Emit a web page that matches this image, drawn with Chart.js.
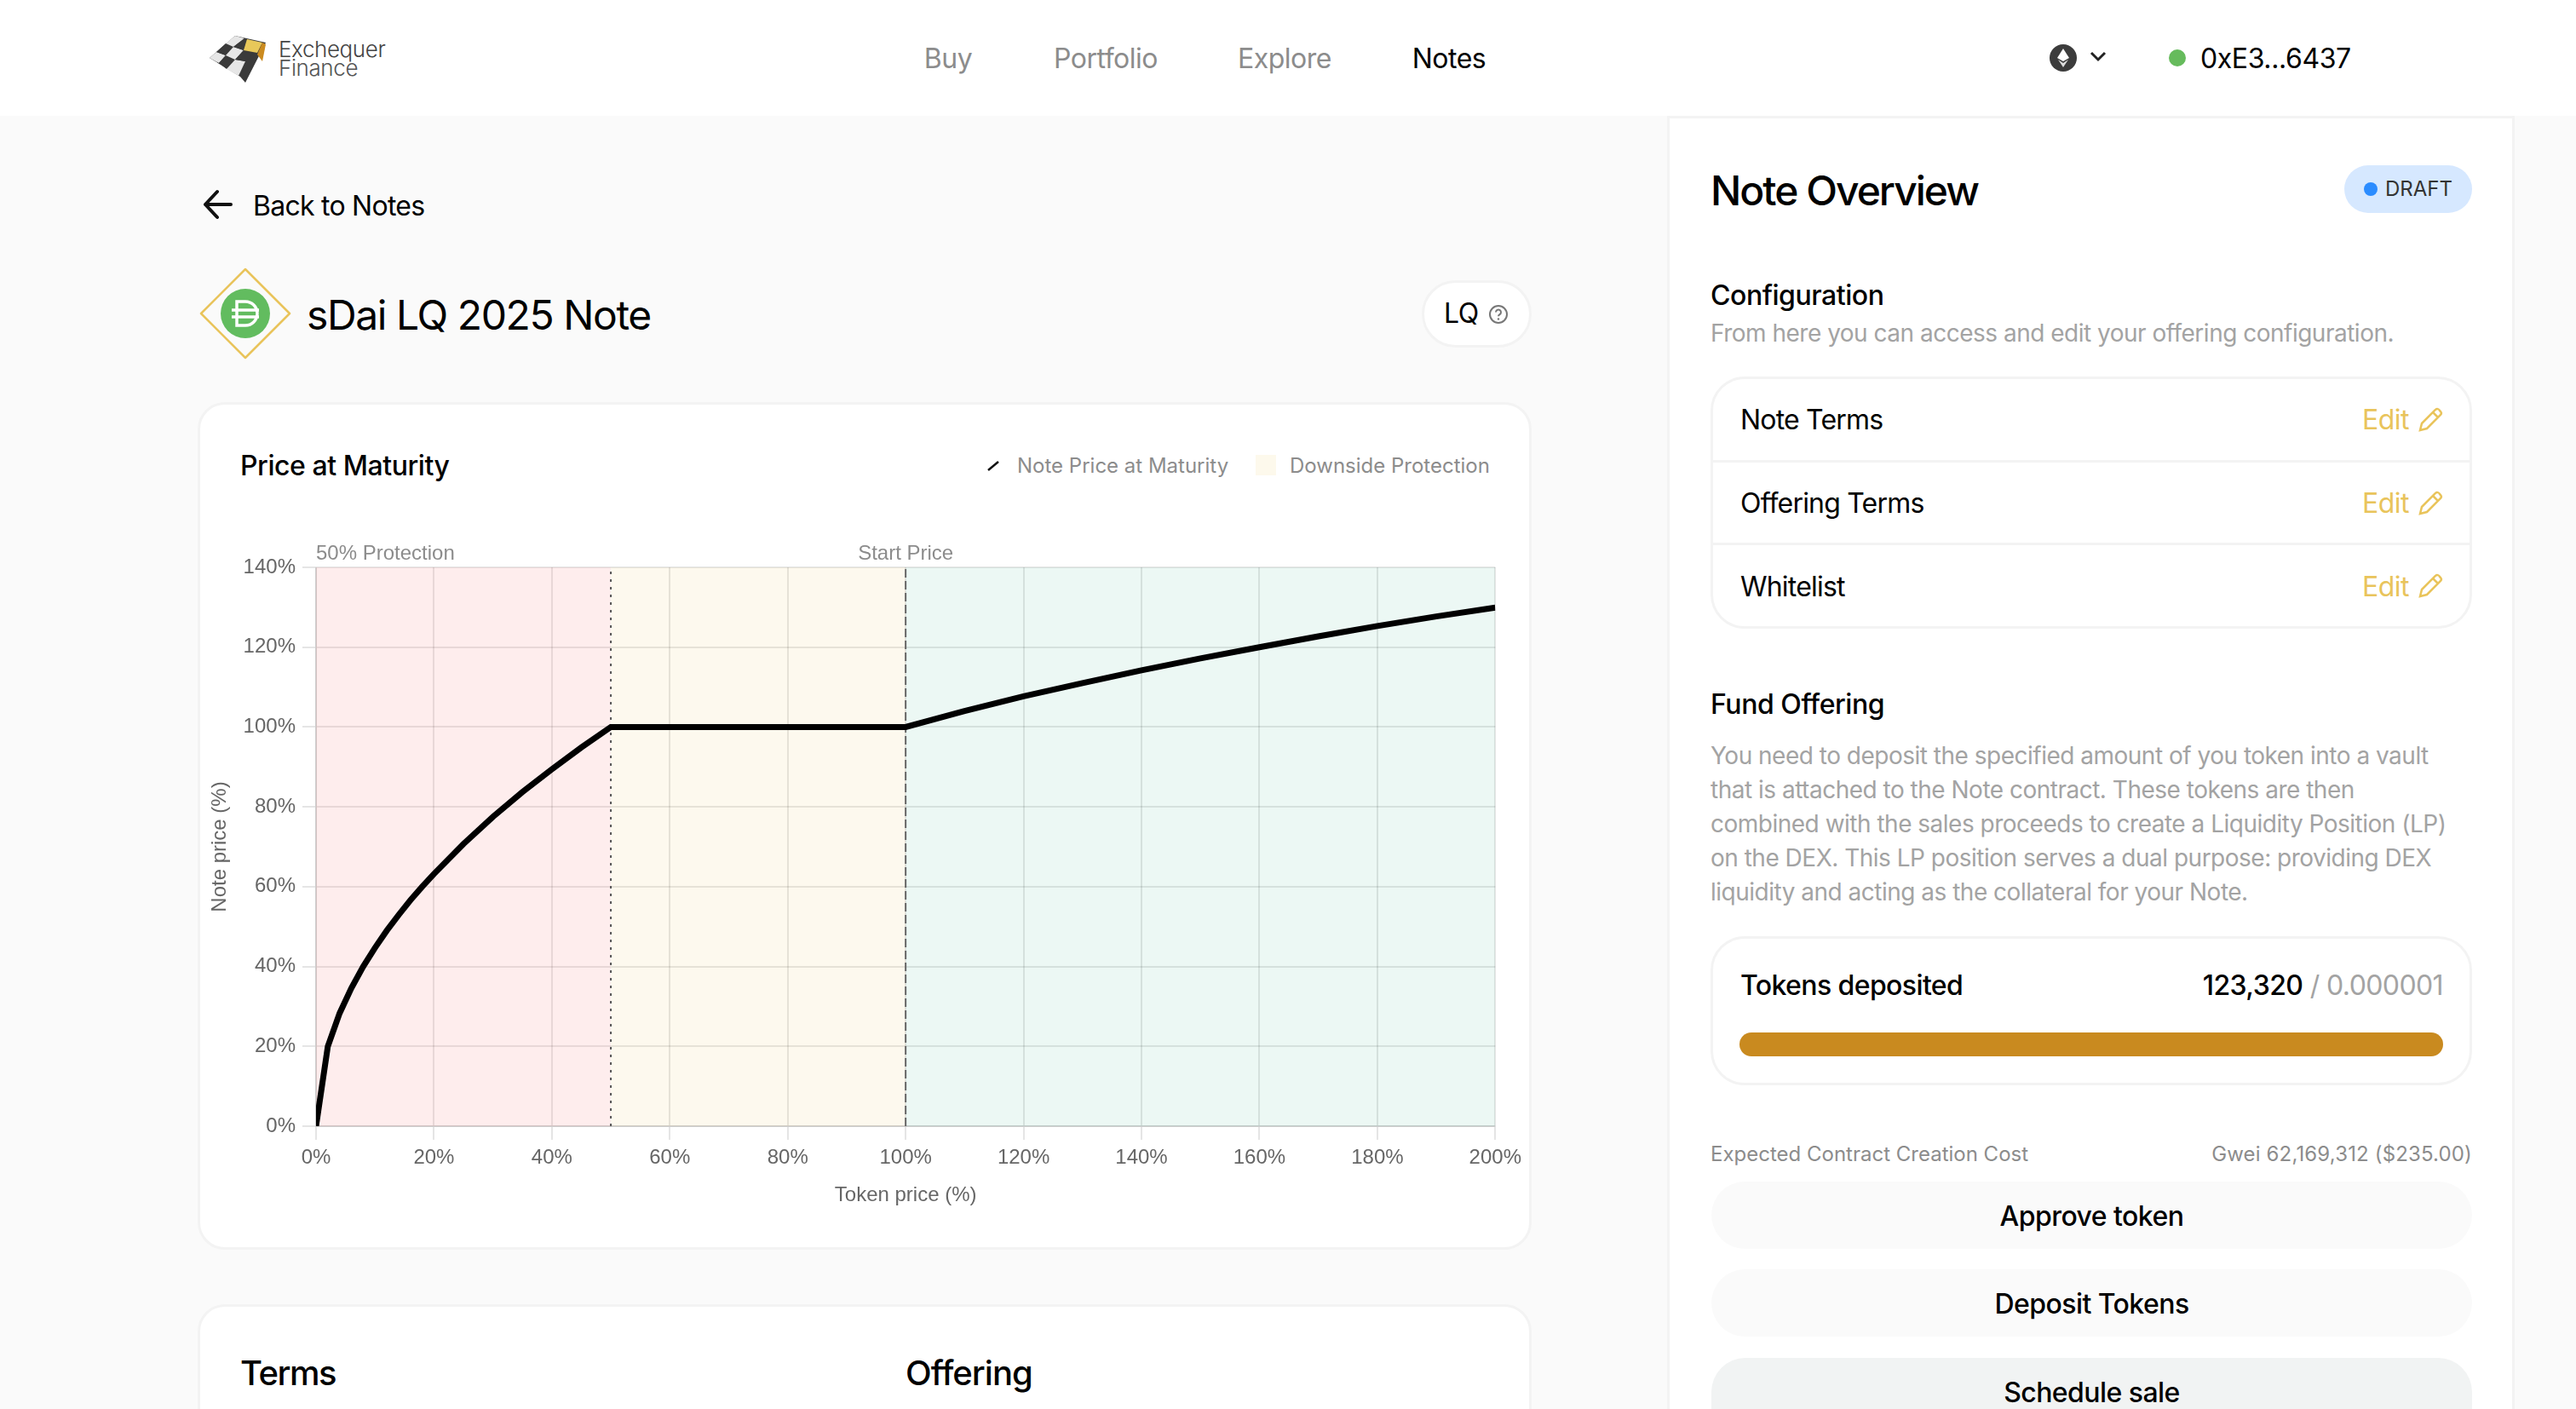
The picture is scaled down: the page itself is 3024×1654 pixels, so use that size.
<!DOCTYPE html>
<html>
<head>
<meta charset="utf-8">
<title>sDai LQ 2025 Note</title>
<script src="https://cdn.jsdelivr.net/npm/chart.js@4"></script>
<style>
html,body{margin:0;padding:0;background:#fafafa}
body{width:3024px;height:1654px;position:relative;overflow:hidden;font-family:Inter,sans-serif;color:#000}
.box{position:absolute;box-sizing:border-box;background:#fff;border:3px solid #f3f3f3}
.t{position:absolute;white-space:nowrap;line-height:40px;font-size:32px;letter-spacing:-.5px}
.m{font-weight:500}
.gray{color:#8c8c8c}
.r{text-align:right}
.c{text-align:center}
.edit{color:#e9c45b}
.small{font-size:24px;letter-spacing:0}
.para{font-size:28px;letter-spacing:-.5px;color:#a3a3a3}
.row{letter-spacing:-.8px}
.btn{position:absolute;left:2009px;width:893px;height:79px;border-radius:40px;background:#fafafa;text-align:center;line-height:81px;font-size:32px;font-weight:500;letter-spacing:-.55px}
svg{position:absolute;overflow:visible}
canvas{position:absolute}
</style>
</head>
<body>

<!-- header -->
<div style="position:absolute;left:0;top:0;width:3024px;height:136px;background:#fff"></div>
<svg style="left:246px;top:42px" width="67" height="55" viewBox="0 0 67 55">
  <polygon points="0,26 30,0 66,8 42,55 36,48" fill="#3a3a3a"/>
  <polygon points="0,26 8,19 19,23 11,32" fill="#e6e6e6"/>
  <polygon points="8,19 19,9 28,13 19,23" fill="#3a3a3a"/>
  <polygon points="19,9 30,0 41,3 28,13" fill="#e6e6e6"/>
  <polygon points="11,32 19,23 30,28 20,39" fill="#3a3a3a"/>
  <polygon points="19,23 28,13 40,17 30,28" fill="#e6e6e6"/>
  <polygon points="28,13 41,3 52,6 40,17" fill="#3a3a3a"/>
  <polygon points="20,39 30,28 42,30 34,47" fill="#e6e6e6"/>
  <polygon points="30,28 40,17 52,21 42,30" fill="#3a3a3a"/>
  <polygon points="40,17 44,4 62,8 56,20" fill="#e8c85a"/>
  <polygon points="62,8 66,10 62,30 56,22" fill="#cb8b20"/>
</svg>
<div class="t" style="left:327px;top:38px;font-size:26px;color:#444;font-weight:300;letter-spacing:-.4px">Exchequer</div>
<div class="t" style="left:327px;top:60px;font-size:26px;color:#555;font-weight:300;letter-spacing:-.4px">Finance</div>
<div class="t gray c" style="left:1013px;width:200px;top:49px">Buy</div>
<div class="t gray c" style="left:1198px;width:200px;top:49px">Portfolio</div>
<div class="t gray c" style="left:1408px;width:200px;top:49px">Explore</div>
<div class="t c" style="left:1601px;width:200px;top:49px">Notes</div>
<svg style="left:2406px;top:52px" width="32" height="32" viewBox="0 0 32 32">
  <circle cx="16" cy="16" r="16" fill="#3c3c3c"/>
  <polygon points="16,5 23,16 16,20 9,16" fill="#fff"/>
  <polygon points="16,22 22,18 16,27 10,18" fill="#ddd"/>
</svg>
<svg style="left:2453px;top:60px" width="20" height="14" viewBox="0 0 20 14"><polyline points="2,2 10,10 18,2" fill="none" stroke="#222" stroke-width="3"/></svg>
<svg style="left:2546px;top:58px" width="20" height="20"><circle cx="10" cy="10" r="10" fill="#66bb5c"/></svg>
<div class="t" style="left:2583px;top:49px;letter-spacing:-.4px">0xE3...6437</div>

<!-- left column heading -->
<svg style="left:238px;top:222px" width="36" height="36" viewBox="0 0 36 36"><path d="M33 18H3M17 3L3 18L17 33" fill="none" stroke="#111" stroke-width="4" stroke-linecap="round" stroke-linejoin="round"/></svg>
<div class="t" style="left:297px;top:222px;letter-spacing:-.75px">Back to Notes</div>
<svg style="left:234px;top:314px" width="108" height="108" viewBox="0 0 108 108">
  <polygon points="54,2 106,54 54,106 2,54" fill="none" stroke="#e9c45b" stroke-width="2.5" stroke-linejoin="round"/>
  <circle cx="54" cy="54" r="29" fill="#62bc5f"/>
  <path d="M44 40h10a14 14 0 0 1 0 28H44zM38 50h32M38 58h32" fill="none" stroke="#fff" stroke-width="3.5"/>
</svg>
<div class="t" style="left:360px;top:348px;font-size:48px;line-height:44px;letter-spacing:-1.4px">sDai LQ 2025 Note</div>
<div class="box" style="left:1669px;top:329px;width:129px;height:79px;border-radius:40px"></div>
<div class="t" style="left:1695px;top:348px">LQ</div>
<svg style="left:1747px;top:357px" width="24" height="24" viewBox="0 0 24 24">
  <circle cx="12" cy="12" r="10" fill="none" stroke="#777" stroke-width="2"/>
  <path d="M9 9.5a3 3 0 1 1 4.5 2.6c-1 .6-1.5 1-1.5 2.2" fill="none" stroke="#777" stroke-width="2"/>
  <circle cx="12" cy="17.5" r="1.2" fill="#777"/>
</svg>

<!-- chart card -->
<div class="box" style="left:232px;top:472px;width:1566px;height:995px;border-radius:32px"></div>
<div class="t m" style="left:282px;top:527px;letter-spacing:-.45px">Price at Maturity</div>
<svg style="left:1158px;top:540px" width="16" height="14"><line x1="2" y1="12" x2="14" y2="2" stroke="#111" stroke-width="2.5"/></svg>
<div class="t gray small" style="left:1194px;top:527px">Note Price at Maturity</div>
<div style="position:absolute;left:1474px;top:534px;width:24px;height:24px;background:#fdf9ec"></div>
<div class="t gray small" style="left:1514px;top:527px">Downside Protection</div>
<canvas id="myChart" width="1557" height="810" style="left:236px;top:630px"></canvas>

<!-- second card -->
<div class="box" style="left:232px;top:1531px;width:1566px;height:200px;border-radius:32px"></div>
<div class="t m" style="left:282px;top:1592px;font-size:40px;letter-spacing:-1.5px">Terms</div>
<div class="t m" style="left:1063px;top:1592px;font-size:40px;letter-spacing:-1px">Offering</div>

<!-- right panel -->
<div class="box" style="left:1957px;top:136px;width:995px;height:1600px"></div>
<div class="t m" style="left:2008px;top:204px;font-size:48px;letter-spacing:-2px">Note Overview</div>
<div style="position:absolute;left:2752px;top:194px;width:150px;height:56px;border-radius:28px;background:#d6e8ff"></div>
<svg style="left:2775px;top:214px" width="16" height="16"><circle cx="8" cy="8" r="8" fill="#2b8cff"/></svg>
<div class="t small" style="left:2800px;top:202px;color:#333">DRAFT</div>

<div class="t m" style="left:2008px;top:327px;letter-spacing:-.45px">Configuration</div>
<div class="t para" style="left:2008px;top:371px">From here you can access and edit your offering configuration.</div>

<div class="box" style="left:2008px;top:442px;width:894px;height:296px;border-radius:40px"></div>
<div style="position:absolute;left:2010px;top:540px;width:890px;height:3px;background:#f3f3f3"></div>
<div style="position:absolute;left:2010px;top:637px;width:890px;height:3px;background:#f3f3f3"></div>
<div class="t row" style="left:2043px;top:473px">Note Terms</div>
<div class="t row" style="left:2043px;top:571px">Offering Terms</div>
<div class="t row" style="left:2043px;top:669px">Whitelist</div>
<div class="t edit" style="left:2773px;top:473px">Edit</div>
<div class="t edit" style="left:2773px;top:571px">Edit</div>
<div class="t edit" style="left:2773px;top:669px">Edit</div>
<svg style="left:2838px;top:478px" width="30" height="30" viewBox="0 0 30 30"><path d="M3 27l2-8L21 3a3 3 0 0 1 5 1l1 1a3 3 0 0 1 0 4L11 25zM18 6l6 6" fill="none" stroke="#e9c45b" stroke-width="2.5"/></svg>
<svg style="left:2838px;top:576px" width="30" height="30" viewBox="0 0 30 30"><path d="M3 27l2-8L21 3a3 3 0 0 1 5 1l1 1a3 3 0 0 1 0 4L11 25zM18 6l6 6" fill="none" stroke="#e9c45b" stroke-width="2.5"/></svg>
<svg style="left:2838px;top:673px" width="30" height="30" viewBox="0 0 30 30"><path d="M3 27l2-8L21 3a3 3 0 0 1 5 1l1 1a3 3 0 0 1 0 4L11 25zM18 6l6 6" fill="none" stroke="#e9c45b" stroke-width="2.5"/></svg>

<div class="t m" style="left:2008px;top:807px;letter-spacing:-.45px">Fund Offering</div>
<div class="t para" style="left:2008px;top:867px">You need to deposit the specified amount of you token into a vault</div>
<div class="t para" style="left:2008px;top:907px">that is attached to the Note contract. These tokens are then</div>
<div class="t para" style="left:2008px;top:947px">combined with the sales proceeds to create a Liquidity Position (LP)</div>
<div class="t para" style="left:2008px;top:987px">on the DEX. This LP position serves a dual purpose: providing DEX</div>
<div class="t para" style="left:2008px;top:1027px">liquidity and acting as the collateral for your Note.</div>

<div class="box" style="left:2008px;top:1099px;width:894px;height:175px;border-radius:40px"></div>
<div class="t m" style="left:2043px;top:1137px;letter-spacing:-.6px">Tokens deposited</div>
<div class="t r" style="right:156px;top:1137px;letter-spacing:-.6px"><span class="m">123,320</span> <span style="color:#a3a3a3">/ 0.000001</span></div>
<div style="position:absolute;left:2042px;top:1212px;width:826px;height:28px;border-radius:14px;background:#c98a1f"></div>

<div class="t gray small" style="left:2008px;top:1335px">Expected Contract Creation Cost</div>
<div class="t gray r small" style="right:122px;top:1335px;letter-spacing:.15px">Gwei 62,169,312 ($235.00)</div>
<div class="btn" style="top:1387px">Approve token</div>
<div class="btn" style="top:1490px">Deposit Tokens</div>
<div class="btn" style="top:1594px;height:100px;background:#f1f3f3">Schedule sale</div>

<script>
// values
const tokenPrice = [0, 2, 4, 6, 8, 10, 12, 14, 16, 18, 20, 25, 30, 35, 40, 45, 50, 100, 110, 120, 130, 140, 150, 160, 170, 180, 190, 200];
const notePrice = [0, 20, 28.3, 34.6, 40, 44.7, 49, 52.9, 56.6, 60, 63.2, 70.7, 77.5, 83.7, 89.4, 94.9, 100, 100, 104, 107.7, 111, 114.2, 117.2, 120, 122.7, 125.3, 127.7, 129.9];

const redBand = [0, 50];
const yellowBand = [50, 100];
const greenBand = [100, 200];
const protectionLine = [50, 50];
const startLine = [100, 100];
const bandTop = [140, 140];
const lineEnds = [0, 140];

const topLabels = ['50% Protection', 'Start Price'];
const topLabelAt = [0, 100];

function toPoints(xs, ys) {
  return xs.map((x, i) => ({ x: x, y: ys[i] }));
}

function band(xs, color) {
  return {
    data: toPoints(xs, bandTop),
    backgroundColor: color,
    borderWidth: 0,
    pointRadius: 0,
    fill: 'origin'
  };
}

// text above the plot, placed with the x scale
const topLabelPlugin = {
  id: 'topLabels',
  afterDraw(chart) {
    const ctx = chart.ctx;
    const x = chart.scales.x;
    ctx.save();
    ctx.font = '24px "Liberation Sans"';
    ctx.fillStyle = '#8c8c8c';
    ctx.textBaseline = 'middle';
    topLabels.forEach((label, i) => {
      ctx.textAlign = topLabelAt[i] === 0 ? 'left' : 'center';
      ctx.fillText(label, x.getPixelForValue(topLabelAt[i]), chart.chartArea.top - 16);
    });
    ctx.restore();
  }
};

Chart.defaults.font.family = '"Liberation Sans", Arial, sans-serif';
Chart.defaults.font.size = 24;
Chart.defaults.color = '#666';

var ctx = document.getElementById('myChart').getContext('2d');
var myChart = new Chart(ctx, {
  type: 'line',
  data: {
    datasets: [
      {
        label: 'Note Price at Maturity',
        data: toPoints(tokenPrice, notePrice),
        borderColor: '#000',
        borderWidth: 7,
        pointRadius: 0,
        tension: 0,
        fill: false
      },
      {
        data: toPoints(protectionLine, lineEnds),
        borderColor: '#555',
        borderWidth: 2,
        borderDash: [3, 6],
        pointRadius: 0,
        fill: false
      },
      {
        data: toPoints(startLine, lineEnds),
        borderColor: '#666',
        borderWidth: 2,
        borderDash: [10, 4],
        pointRadius: 0,
        fill: false
      },
      band(redBand, 'rgba(248, 113, 113, 0.13)'),
      band(yellowBand, 'rgba(233, 196, 91, 0.1)'),
      band(greenBand, 'rgba(40, 180, 130, 0.09)')
    ]
  },
  options: {
    responsive: false,
    animation: false,
    devicePixelRatio: 1,
    layout: { padding: { top: 36, right: 0, bottom: 0, left: 0 } },
    plugins: {
      legend: { display: false },
      tooltip: { enabled: false }
    },
    scales: {
      x: {
        type: 'linear',
        min: 0,
        max: 200,
        grid: { lineWidth: 2, tickLength: 16 },
        border: { width: 2 },
        ticks: {
          stepSize: 20,
          maxRotation: 0,
          padding: 7,
          callback: value => value + '%'
        },
        title: { display: true, text: 'Token price (%)', padding: { top: 12, bottom: 22 } },
        afterFit(scale) { scale.height = 118; }
      },
      y: {
        min: 0,
        max: 140,
        grid: { lineWidth: 2, tickLength: 16 },
        border: { width: 2 },
        ticks: {
          stepSize: 20,
          padding: 8,
          callback: value => value + '%'
        },
        title: { display: true, text: 'Note price (%)', padding: { top: 8, bottom: 0 } },
        afterFit(scale) { scale.width = 135; }
      }
    }
  },
  plugins: [topLabelPlugin]
});
</script>
</body>
</html>
